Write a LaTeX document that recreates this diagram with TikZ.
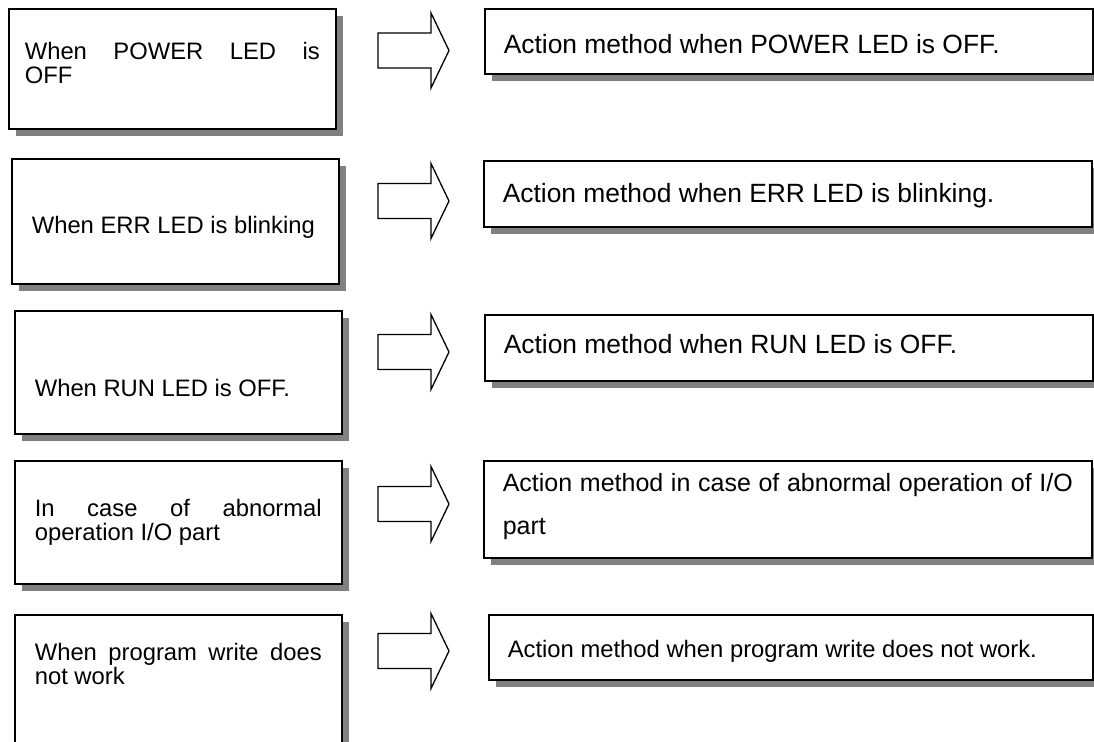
\documentclass[tikz,border=0pt]{standalone}
\usepackage{fontspec}
\setmainfont{Liberation Sans}
\usetikzlibrary{shadows}
\definecolor{shadowgray}{HTML}{808080}
\hyphenpenalty=10000
\exhyphenpenalty=10000

\begin{document}
\begin{tikzpicture}[x=1pt,y=-1pt,
    shadowbox/.style={draw=black,line width=1.6pt,fill=white,anchor=north west,
      inner ysep=0pt,align=justify,
      drop shadow={shadow xshift=7.5pt,shadow yshift=-7.5pt,fill=shadowgray,opacity=1}},
    cause/.style={shadowbox,minimum width=327pt,inner xsep=20pt,text width=287pt,
      font=\fontsize{23.8pt}{24pt}\selectfont},
    action/.style={shadowbox,minimum width=608pt,inner xsep=19pt,text width=570pt,
      font=\fontsize{26.4pt}{30pt}\selectfont},
    arrowline/.style={draw=black,line width=1.3pt,fill=white},
    pics/rarrow/.style={code={
      \draw[arrowline] (0,-17.5) -- (53,-17.5) -- (53,-37.5) -- (71,0)
        -- (53,37.5) -- (53,17.5) -- (0,17.5) -- cycle;}}]
    \useasboundingbox (0,0) rectangle (1094,741);
    \clip (0,0) rectangle (1094,741);
    % left column: the symptoms
    \node[cause,minimum height=120pt,inner xsep=16pt,text width=295pt,
      text height=17pt,text depth=36pt] (C1) at (8,8)
      {When POWER LED is\linebreak OFF};
    \node[cause,minimum height=125pt,text height=29pt,text depth=5pt] (C2) at (11,158)
      {When ERR LED is blinking};
    \node[cause,minimum height=123pt,text height=48pt,text depth=0pt] (C3) at (14,310)
      {When RUN LED is OFF.};
    \node[cause,minimum height=123pt] (C4) at (14,460)
      {In case of abnormal\linebreak operation I/O part};
    \node[cause,minimum height=150pt,text height=17pt,text depth=76pt] (C5) at (14,614)
      {When program write does\linebreak not work};
    % block arrows
    \pic (R1) at (378,50.5) {rarrow};
    \pic (R2) at (378,201) {rarrow};
    \pic (R3) at (378,352) {rarrow};
    \pic (R4) at (378,504) {rarrow};
    \pic (R5) at (378,651) {rarrow};
    % right column: what to do
    \node[action,minimum height=65pt,text height=25pt,text depth=0pt] (A1) at (484,8)
      {Action method when POWER LED is OFF.};
    \node[action,minimum height=66pt,text height=22pt,text depth=5pt] (A2) at (483,160)
      {Action method when ERR LED is blinking.};
    \node[action,minimum height=66pt,text height=16pt,text depth=5pt] (A3) at (484,314)
      {Action method when RUN LED is OFF.};
    \node[action,minimum height=97pt,text height=18pt,text depth=53pt,
      font=\fontsize{25pt}{43pt}\selectfont] (A4) at (483,460)
      {Action method in case of abnormal operation of I/O\linebreak part};
    \node[action,minimum height=65pt,minimum width=604pt,text width=566pt,
      text height=22pt,text depth=2pt,font=\fontsize{23.8pt}{24pt}\selectfont] (A5) at (488,614)
      {Action method when program write does not work.};
\end{tikzpicture}
\end{document}
